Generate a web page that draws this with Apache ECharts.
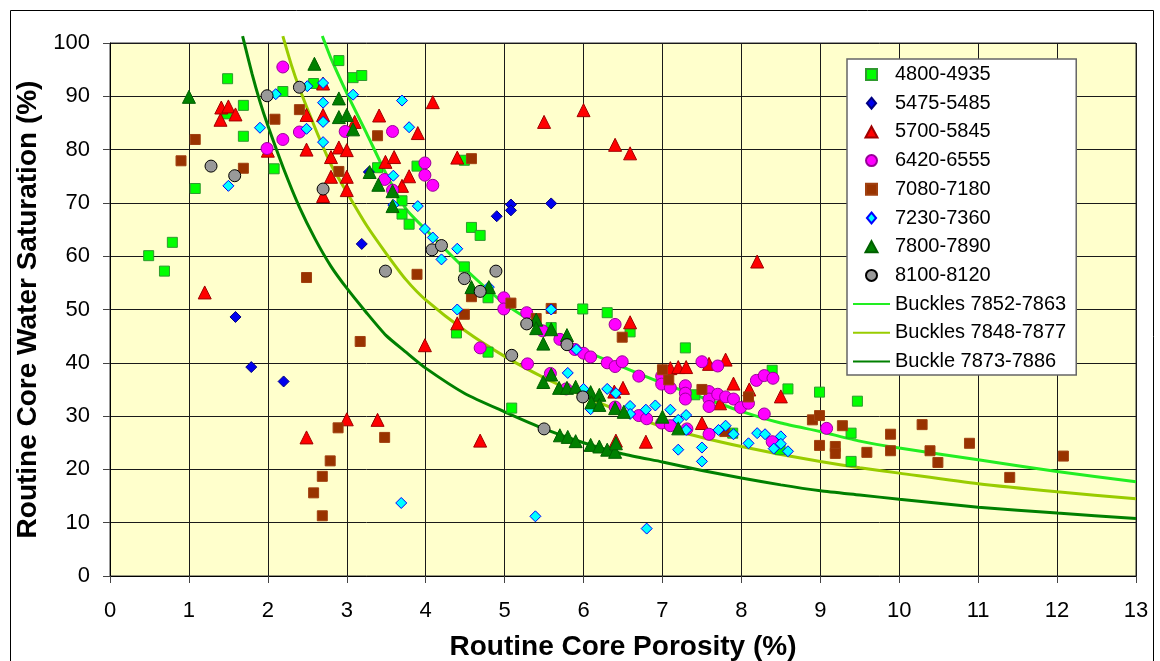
<!DOCTYPE html>
<html>
<head>
<meta charset="utf-8">
<title>Routine Core Water Saturation vs Porosity</title>
<script src="https://cdn.jsdelivr.net/npm/echarts@6/dist/echarts.min.js"></script>
<style>
  html, body { margin: 0; padding: 0; background: #ffffff; }
  #chart { width: 1160px; height: 661px; }
</style>
</head>
<body>
<div id="chart"></div>
<script>
// Core plug measurements: [porosity %, water saturation %] per depth interval
const s4800 = [[0.49,60.1],[0.69,57.2],[0.79,62.6],[1.08,72.7],[1.49,93.3],[1.48,86.7],[1.69,88.3],[1.69,82.5],
  [2.08,76.4],[2.19,90.9],[2.58,92.4],[2.90,96.7],[3.08,93.5],[3.19,93.9],[3.39,76.6],[3.89,76.9],[4.49,78.0],
  [3.70,70.4],[3.70,67.9],[3.79,66.0],[4.58,65.4],[4.69,63.9],[4.49,58.0],[4.79,52.2],[5.99,50.1],[5.59,46.6],
  [4.39,45.6],[4.79,42.0],[5.09,31.5],[6.30,49.4],[6.59,45.8],[7.29,42.8],[8.39,38.6],[8.59,35.1],[8.99,34.5],
  [9.47,32.8],[9.39,26.8],[9.39,21.5],[7.41,34.0],[7.89,26.8],[8.49,23.7]];
const s5475 = [[1.59,48.6],[1.79,39.2],[2.20,36.5],[3.19,62.3],[3.28,75.8],[4.90,67.5],[5.08,69.7],[5.08,68.6],[5.59,69.9]];
const s5700 = [[1.20,53.2],[1.40,85.6],[1.41,87.9],[1.50,88.1],[1.59,86.6],[2.0,79.8],[2.49,86.5],[2.70,86.5],
  [2.70,92.4],[2.49,80.0],[2.80,78.6],[2.80,74.9],[2.90,80.4],[3.0,79.9],[3.0,74.9],[3.0,72.4],[2.70,71.3],
  [3.10,85.2],[3.41,86.4],[3.49,77.7],[3.60,78.6],[3.70,73.2],[3.79,75.0],[3.90,83.1],[4.09,88.9],[4.40,78.5],
  [4.40,47.4],[3.99,43.3],[5.50,85.2],[6.0,87.4],[6.40,80.9],[6.59,79.3],[6.59,47.6],[8.20,59.0],[2.49,26.0],
  [3.0,29.4],[3.39,29.3],[4.69,25.4],[6.41,25.4],[6.79,25.2],[6.39,34.6],[6.50,35.3],[7.10,39.0],[7.20,39.2],
  [7.30,39.2],[7.59,39.8],[7.80,40.6],[7.90,36.1],[8.10,35.0],[8.50,33.7],[7.50,28.7],[7.73,32.4]];
const s6420 = [[1.99,80.2],[2.19,81.9],[2.19,95.5],[2.40,83.3],[2.98,83.4],[3.48,74.4],[3.58,72.4],[3.58,83.4],
  [3.99,77.5],[3.99,75.2],[4.09,73.3],[4.69,42.8],[4.99,52.2],[4.99,50.1],[5.28,49.4],[5.48,46.0],[5.29,39.8],
  [5.58,38.0],[5.70,44.4],[5.89,42.5],[6.0,41.8],[6.09,41.1],[6.30,40.0],[6.40,39.3],[6.49,40.2],[6.40,47.2],
  [6.70,37.5],[6.99,37.5],[6.99,36.0],[7.10,35.3],[7.29,35.7],[7.29,34.3],[7.29,33.2],[7.50,40.2],[7.70,39.4],
  [7.59,34.6],[7.59,33.2],[7.59,31.8],[7.70,34.1],[7.80,33.6],[7.90,33.2],[7.99,31.6],[8.09,32.4],[8.19,36.7],
  [8.29,37.6],[8.40,37.1],[8.29,30.4],[9.08,27.7],[8.39,25.2],[7.59,26.6],[6.40,31.7],[6.70,30.1],[6.80,29.5],
  [6.99,28.7],[7.10,28.2],[7.31,27.6],[5.78,35.1]];
const s7080 = [[0.90,77.9],[1.08,81.9],[1.69,76.5],[2.09,85.7],[2.40,87.5],[2.49,56.0],[2.90,75.9],[3.39,82.6],
  [4.58,78.3],[3.89,56.6],[3.17,44.0],[2.89,27.8],[2.79,21.6],[2.69,18.7],[2.58,15.6],[2.69,11.3],[3.48,26.0],
  [4.49,49.1],[4.58,52.4],[5.08,51.2],[5.40,48.3],[5.59,50.2],[6.49,44.8],[7.0,38.7],[7.08,36.8],[7.50,35.0],
  [8.09,33.6],[7.79,27.1],[8.90,29.3],[8.99,30.1],[9.28,28.2],[8.99,24.5],[9.19,24.3],[9.19,23.0],[9.59,23.2],
  [9.89,26.6],[9.89,23.5],[10.29,28.4],[10.39,23.5],[10.49,21.3],[10.89,24.9],[11.40,18.5],[12.08,22.5]];
const s7230 = [[1.50,73.2],[1.90,84.1],[2.10,90.4],[2.50,91.9],[2.70,92.5],[2.70,88.8],[2.70,85.2],[2.49,83.9],
  [2.70,81.4],[3.08,90.3],[3.70,89.2],[3.79,84.2],[3.59,75.1],[3.59,69.6],[3.90,69.4],[3.99,65.1],[4.09,63.5],
  [4.40,61.4],[4.20,59.4],[4.80,54.2],[4.40,50.0],[5.59,50.0],[3.69,13.7],[5.39,11.2],[5.91,42.5],[5.80,38.1],
  [6.0,35.1],[6.09,31.3],[6.30,35.1],[6.41,34.3],[6.59,31.9],[6.59,30.4],[6.79,31.2],[6.91,32.0],[7.10,31.2],
  [7.20,29.3],[7.30,30.2],[7.30,27.4],[7.20,23.7],[7.50,24.1],[7.50,21.5],[7.71,27.4],[7.80,28.2],[7.90,26.6],
  [8.09,24.9],[8.20,26.8],[8.30,26.6],[8.50,26.2],[8.50,24.8],[8.41,23.9],[8.59,23.4],[6.80,8.9]];
const s7800 = [[1.0,89.9],[2.59,96.1],[2.90,89.6],[2.90,86.1],[3.0,86.5],[3.08,83.8],[3.29,75.8],[3.40,73.4],
  [3.58,72.2],[3.58,69.4],[4.58,54.2],[4.80,54.2],[5.40,48.1],[5.40,46.5],[5.49,43.6],[5.59,46.3],[5.79,45.2],
  [5.59,37.8],[5.49,36.4],[5.69,35.3],[5.79,35.3],[5.90,35.5],[6.09,34.5],[6.20,34.0],[6.10,32.6],[6.20,32.1],
  [6.40,31.5],[6.51,30.8],[7.0,29.9],[7.20,27.7],[5.70,26.4],[5.80,26.1],[5.90,25.3],[6.09,24.6],[6.20,24.3],
  [6.30,23.7],[6.40,23.3],[6.41,24.9]];
const s8100 = [[1.28,76.9],[1.58,75.1],[1.99,90.1],[2.40,91.7],[2.70,72.6],[3.49,57.2],[4.08,61.2],[4.20,62.0],
  [4.49,55.8],[4.69,53.4],[4.89,57.2],[5.09,41.4],[5.28,47.3],[5.50,27.6],[5.79,43.4],[5.99,33.6]];

// Buckles number curves, [porosity %, water saturation %]
const buckles7852 = [[2.69,101.3],[2.8,97.1],[3.0,90.6],[3.25,83.1],[3.5,75.4],[3.75,68.9],[4.0,65.0],[4.5,57.6],
  [5.0,51.1],[5.5,46.4],[6.0,42.4],[6.5,39.2],[7.0,36.2],[7.5,33.5],[8.0,30.9],[8.5,28.7],[9.0,27.1],[9.5,25.3],
  [10,24.0],[11,21.8],[12,19.6],[13,17.7]];
const buckles7848 = [[2.19,101.3],[2.3,95.8],[2.4,91.5],[2.6,84.0],[2.8,77.2],[3.0,72.0],[3.25,65.8],[3.5,60.5],
  [3.75,55.6],[4.0,51.8],[4.5,46.0],[5.0,41.2],[5.5,37.2],[6.0,33.8],[6.5,30.7],[7.0,28.0],[7.5,26.0],[8.0,24.3],
  [8.5,22.8],[9.0,21.5],[9.5,20.3],[10,19.3],[11,17.3],[12,15.8],[13,14.5]];
const buckle7873 = [[1.68,101.3],[1.8,94.2],[1.9,89.0],[2.0,84.5],[2.2,76.4],[2.4,69.2],[2.6,63.2],[2.8,58.1],
  [3.0,54.0],[3.25,49.4],[3.5,45.1],[3.75,42.0],[4.0,39.0],[4.5,34.2],[5.0,30.8],[5.5,27.6],[6.0,25.0],[6.5,22.9],
  [7.0,21.4],[7.5,19.8],[8.0,18.4],[8.5,17.1],[9.0,16.0],[9.5,15.2],[10,14.4],[11,12.9],[12,11.8],[13,10.8]];

const xTicks = { min: 0, max: 13, step: 1 };
const yTicks = { min: 0, max: 100, step: 10 };

const FONT = 'Liberation Sans, Arial, sans-serif';

// legend glyphs drawn at their own aspect ratio inside the wide legend slot
const ICON_SQUARE = 'path://M0,0H10V10H0Z';
const ICON_DIAMOND = 'path://M5,0L10,6L5,12L0,6Z';
const ICON_TRIANGLE = 'path://M6,0L12,11H0Z';

function pointSeries(name, data, symbol, size, fill, edge) {
  return {
    name: name, type: 'scatter', data: data, symbol: symbol, symbolSize: size, z: 3,
    itemStyle: { color: fill, borderColor: edge, borderWidth: 1, opacity: 1 },
    emphasis: { disabled: true }
  };
}
function curveSeries(name, data, color) {
  return {
    name: name, type: 'line', data: data, symbol: 'none', smooth: 0.2, clip: false, z: 2,
    lineStyle: { color: color, width: 3 }, itemStyle: { color: color },
    emphasis: { disabled: true }
  };
}

const chart = echarts.init(document.getElementById('chart'), null, { renderer: 'canvas' });
chart.setOption({
  animation: false,
  backgroundColor: '#ffffff',
  textStyle: { fontFamily: FONT },
  graphic: [{
    type: 'rect', left: 8, top: 8, z: -1, silent: true,
    shape: { width: 1143, height: 700 },
    style: { fill: 'none', stroke: '#000000', lineWidth: 1 }
  }],
  grid: {
    left: 110, right: 24, top: 43, bottom: 85,
    containLabel: false, outerBoundsMode: 'none',
    show: true, backgroundColor: '#FFFFCC', borderColor: '#333333', borderWidth: 1
  },
  legend: {
    orient: 'vertical', left: 847, top: 59,
    padding: [5, 10, 3, 5],
    itemWidth: 37, itemHeight: 11, itemGap: 7.7,
    symbolKeepAspect: true,
    backgroundColor: '#ffffff', borderColor: '#666666', borderWidth: 1.5,
    textStyle: { fontFamily: FONT, fontSize: 20, color: '#000000', lineHeight: 21 },
    data: [
      { name: '4800-4935', icon: ICON_SQUARE },
      { name: '5475-5485', icon: ICON_DIAMOND },
      { name: '5700-5845', icon: ICON_TRIANGLE },
      { name: '6420-6555', icon: 'circle' },
      { name: '7080-7180', icon: ICON_SQUARE },
      { name: '7230-7360', icon: ICON_DIAMOND },
      { name: '7800-7890', icon: ICON_TRIANGLE },
      { name: '8100-8120', icon: 'circle' },
      { name: 'Buckles 7852-7863', itemStyle: { opacity: 0 } },
      { name: 'Buckles 7848-7877', itemStyle: { opacity: 0 } },
      { name: 'Buckle 7873-7886', itemStyle: { opacity: 0 } }
    ]
  },
  xAxis: {
    type: 'value', min: xTicks.min, max: xTicks.max, interval: xTicks.step,
    name: 'Routine Core Porosity (%)', nameLocation: 'middle', nameGap: 57,
    nameTextStyle: { fontFamily: FONT, fontSize: 28, fontWeight: 'bold', color: '#000' },
    axisLine: { show: true, onZero: false, lineStyle: { color: '#000', width: 1 } },
    axisTick: { show: true, inside: false, length: 7, lineStyle: { color: '#444' } },
    axisLabel: { fontFamily: FONT, fontSize: 22, color: '#000', margin: 24 },
    splitLine: { show: true, lineStyle: { color: '#1a1a1a', width: 1 } }
  },
  yAxis: {
    type: 'value', min: yTicks.min, max: yTicks.max, interval: yTicks.step,
    name: 'Routine Core Water Saturation (%)', nameLocation: 'middle', nameGap: 63,
    nameTextStyle: { fontFamily: FONT, fontSize: 28, fontWeight: 'bold', color: '#000' },
    axisLine: { show: true, onZero: false, lineStyle: { color: '#000', width: 1 } },
    axisTick: { show: true, inside: false, length: 7, lineStyle: { color: '#444' } },
    axisLabel: { fontFamily: FONT, fontSize: 22, color: '#000', margin: 20 },
    splitLine: { show: true, lineStyle: { color: '#1a1a1a', width: 1 } }
  },
  series: [
    curveSeries('Buckles 7852-7863', buckles7852, '#22ee22'),
    curveSeries('Buckles 7848-7877', buckles7848, '#99cc00'),
    curveSeries('Buckle 7873-7886', buckle7873, '#008000'),
    pointSeries('4800-4935', s4800, 'rect', 10, '#00ff00', '#2f9a2f'),
    pointSeries('5475-5485', s5475, 'diamond', 11, '#0000ee', '#000080'),
    pointSeries('5700-5845', s5700, 'triangle', 13, '#ff0000', '#a00000'),
    pointSeries('6420-6555', s6420, 'circle', 12, '#ff00ff', '#990099'),
    pointSeries('7080-7180', s7080, 'rect', 10, '#993300', '#a04010'),
    pointSeries('7230-7360', s7230, 'diamond', 11, '#00ffff', '#0000ff'),
    pointSeries('7800-7890', s7800, 'triangle', 13, '#008000', '#006000'),
    pointSeries('8100-8120', s8100, 'circle', 12, '#999999', '#000000')
  ]
});
</script>
</body>
</html>
